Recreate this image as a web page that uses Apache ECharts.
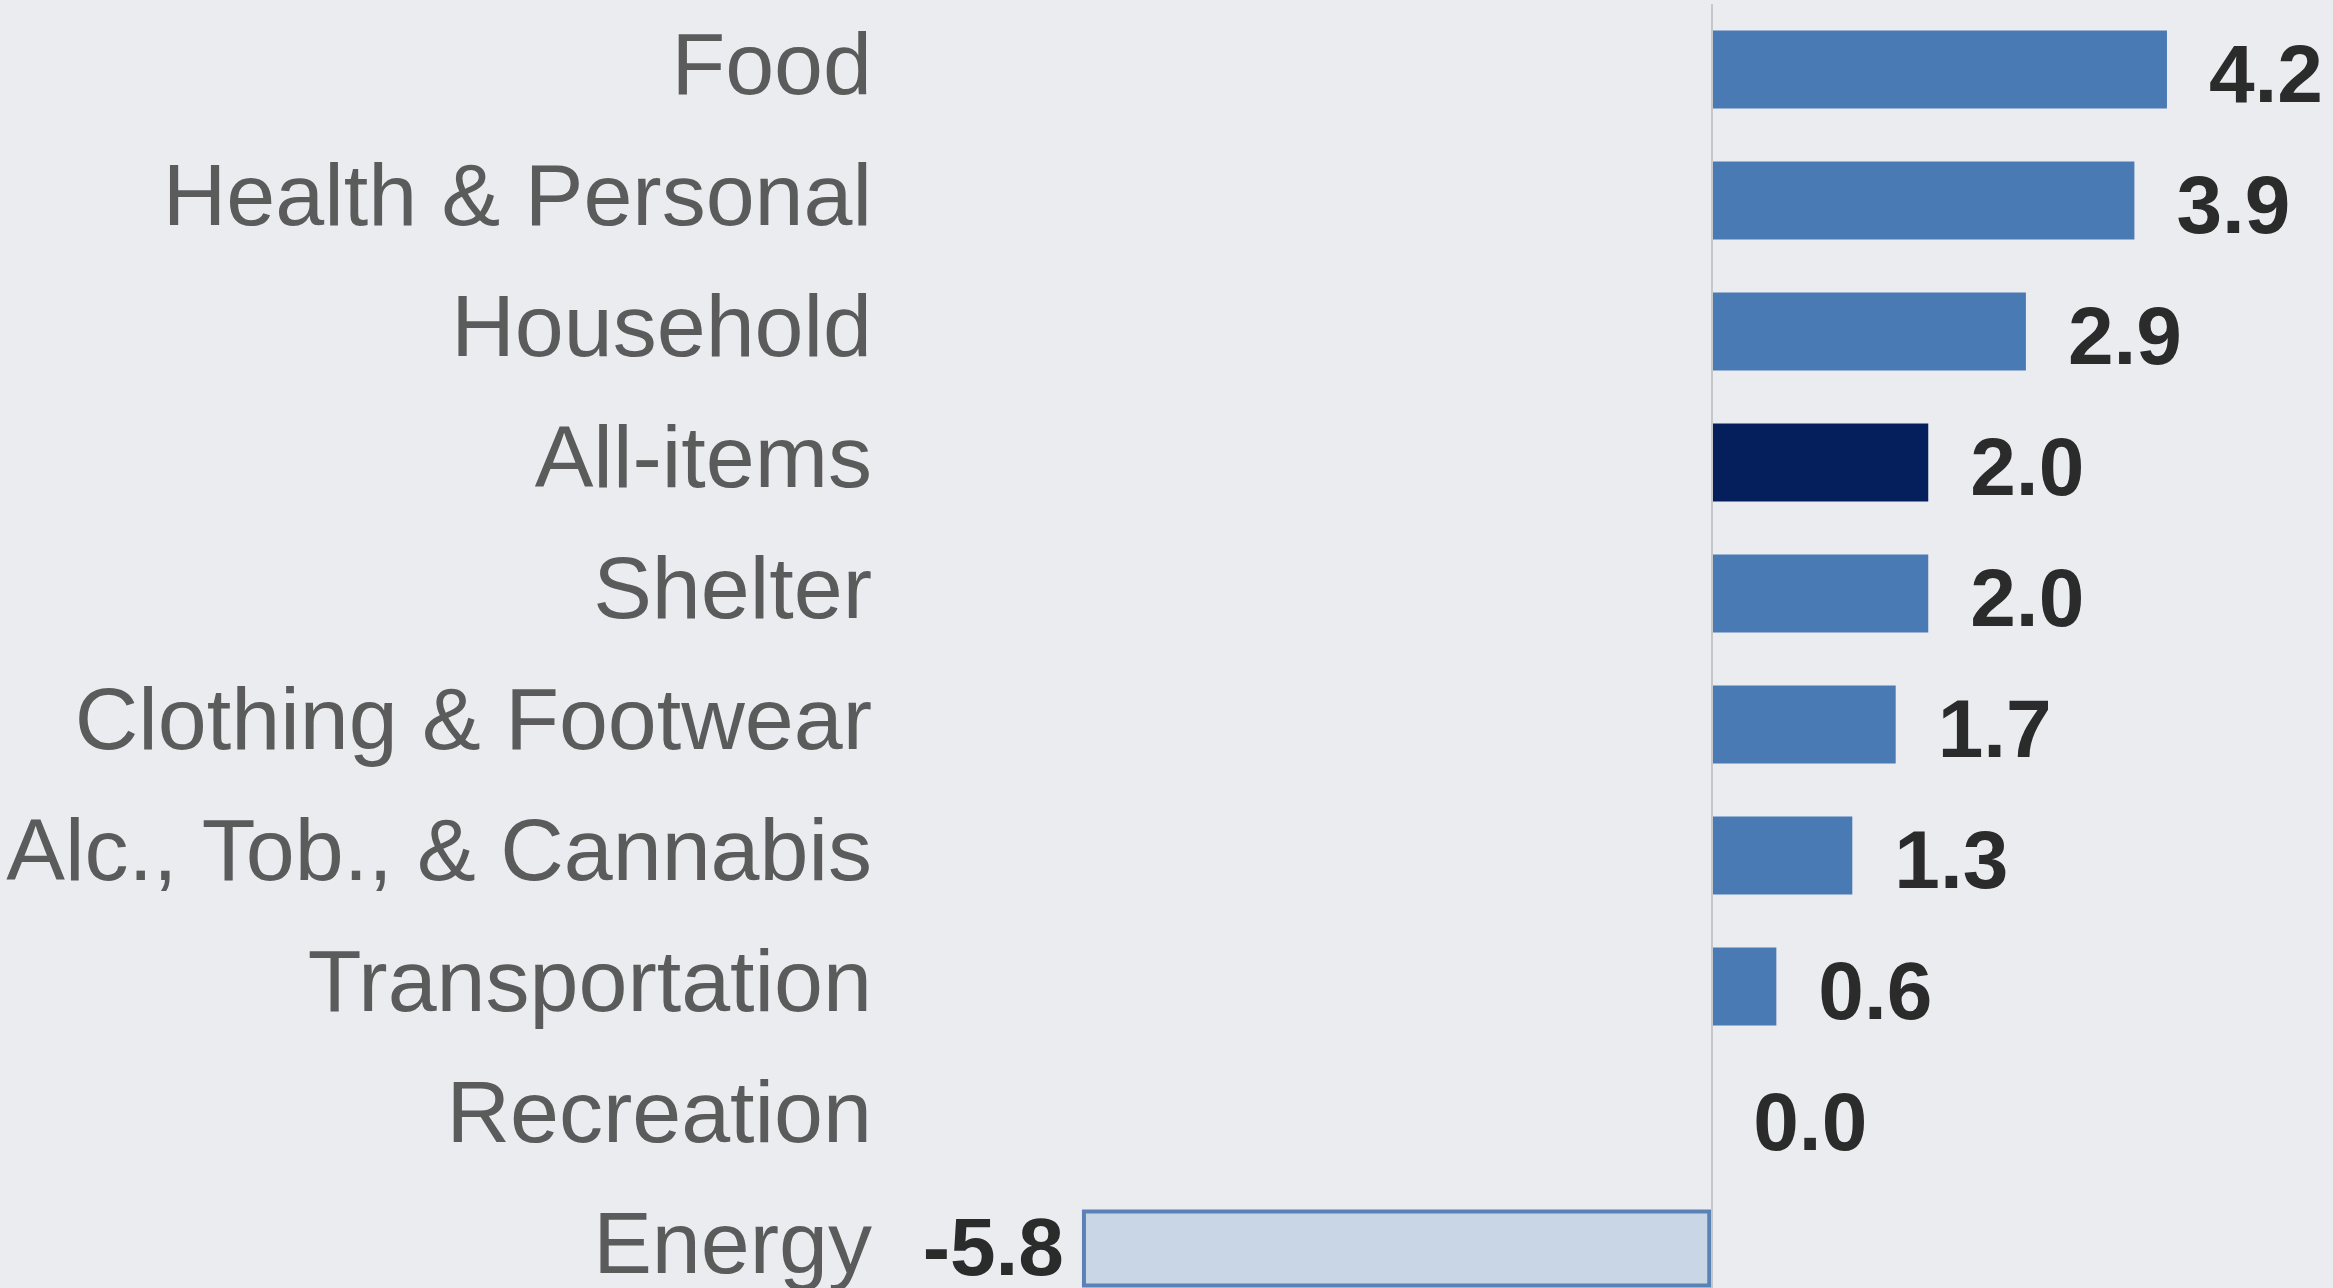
<!DOCTYPE html>
<html>
<head>
<meta charset="utf-8">
<script src="https://cdn.jsdelivr.net/npm/echarts@6/dist/echarts.min.js"></script>
<style>
html,body{margin:0;padding:0;background:#eaecf0;}
#chart{width:2333px;height:1288px;}
</style>
</head>
<body>
<div id="chart"></div>
<script>
const categories = ['Food','Health & Personal','Household','All-items','Shelter','Clothing & Footwear','Alc., Tob., & Cannabis','Transportation','Recreation','Energy'];
const values = [4.2, 3.9, 2.9, 2.0, 2.0, 1.7, 1.3, 0.6, 0.0, -5.8];
const highlight = 'All-items';

const chart = echarts.init(document.getElementById('chart'));
const data = values.map((v, i) => {
  const item = { value: v };
  if (categories[i] === highlight) {
    item.itemStyle = { color: '#041f5c' };
  } else if (v < 0) {
    item.itemStyle = { color: '#c9d6e6', borderColor: '#5a82b5', borderWidth: 4 };
    item.label = { position: 'left', distance: 18, offset: [0, 4] };
  }
  return item;
});

chart.setOption({
  backgroundColor: '#eaecf0',
  animation: false,
  grid: { left: 1006, width: 1302, top: 4, height: 1310, containLabel: false, outerBoundsMode: 'none' },
  xAxis: {
    type: 'value', min: -6.5, max: 5.5,
    show: false
  },
  yAxis: {
    type: 'category', data: categories, inverse: true,
    axisLine: { show: false }, axisTick: { show: false }, splitLine: { show: false },
    axisLabel: { margin: 134, fontSize: 88, color: '#5b5b5b', fontFamily: 'Liberation Sans, Arial, sans-serif', padding: [15, 0, 0, 0] }
  },
  series: [{
    type: 'bar',
    data: data,
    barWidth: 78,
    itemStyle: { color: '#4a7ab3' },
    label: {
      show: true, position: 'right', distance: 42, offset: [0, 10],
      fontSize: 82, fontWeight: 'bold', color: '#2b2b2b',
      fontFamily: 'Liberation Sans, Arial, sans-serif',
      formatter: p => p.value.toFixed(1)
    },
    markLine: {
      silent: true, symbol: 'none',
      label: { show: false },
      lineStyle: { color: '#c5c7ca', width: 2, type: 'solid' },
      data: [{ xAxis: 0 }]
    }
  }]
});
</script>
</body>
</html>
